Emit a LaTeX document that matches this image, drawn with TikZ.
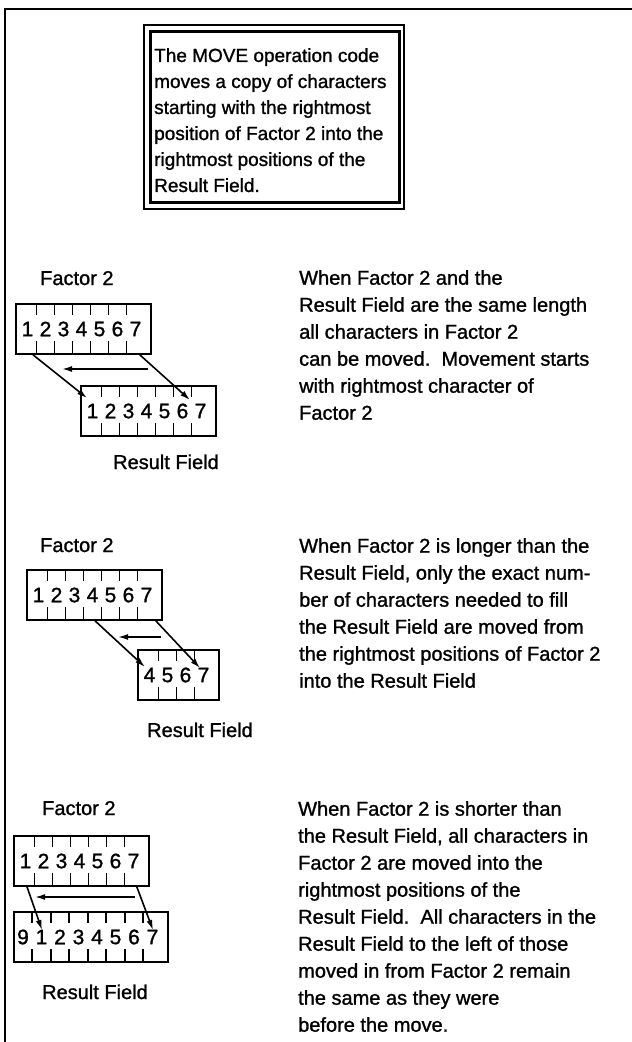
\documentclass[tikz,border=0pt]{standalone}
\usepackage{fontspec}
\setmainfont[FakeBold=1.2]{Liberation Sans}
\usetikzlibrary{arrows.meta}
\begin{document}
\begin{tikzpicture}[x=1pt,y=-1pt,
  frameline/.style={line width=2.4pt},
  fbox/.style={draw,line width=1.8pt,anchor=north west,minimum height=50pt,inner sep=0pt},
  tick/.style={line width=1.6pt},
  digit/.style={inner sep=0pt,font=\fontsize{21}{24}\selectfont},
  arr/.style={line width=1.6pt,-{Latex[length=10pt,width=6pt]}},
  lbl/.style={inner sep=0pt,anchor=base west,font=\fontsize{20}{24}\selectfont},
  desc/.style={inner sep=0pt,anchor=north west,align=left,font=\fontsize{20}{27}\selectfont},
  boxtext/.style={inner sep=0pt,anchor=north west,align=left,font=\fontsize{19}{26}\selectfont}]
\useasboundingbox (0,0) rectangle (632,1042);
% frame
\draw[frameline] (632,9) -- (5,9) -- (5,1042);
% header box
\node[draw,line width=1.5pt,anchor=north west,minimum width=260pt,minimum height=184pt,inner sep=0pt] (hout) at (143,24) {};
\node[draw,line width=3.2pt,anchor=north west,minimum width=249pt,minimum height=171pt,inner sep=0pt] (hin) at (149,30) {};
\node[boxtext] (htext) at (154,48) {The MOVE operation code\\moves a copy of characters\\starting with the rightmost\\position of Factor 2 into the\\rightmost positions of the\\Result Field.};
% generic field box: name, left, top, n, spacing, first offset, right margin, digits
\newcommand{\fieldbox}[8]{%
  \pgfmathsetmacro{\fbw}{#6+#5*(#4-1)+#7}%
  \node[fbox,minimum width=\fbw pt] (#1) at (#2,#3) {};
  \foreach \d [count=\k from 0] in {#8} {
    \node[digit] (#1d\k) at ({#2+#6+#5*\k},{#3+26}) {\d};
  }
  \pgfmathtruncatemacro{\nm}{#4-2}%
  \foreach \k in {0,...,\nm} {
    \draw[tick] ({#2+#6+#5*(\k+0.5)},#3) -- ++(0,12);
    \draw[tick] ({#2+#6+#5*(\k+0.5)},{#3+50}) -- ++(0,-12);
  }
}
% ---------- section 1
\node[lbl] (f1l) at (40,285) {Factor 2};
\fieldbox{fa}{15}{303}{7}{18}{12.5}{14.5}{1,2,3,4,5,6,7}
\fieldbox{fb}{80}{385}{7}{18}{12.5}{14.5}{1,2,3,4,5,6,7}
\node[lbl] (r1l) at (113,469) {Result Field};
\coordinate (e1a) at (87,398);
\coordinate (e1b) at (190,400);
\coordinate (h1s) at (148,369);
\coordinate (h1e) at (62,369);
\draw[arr] ([xshift=18pt]fa.south west) -- (e1a);
\draw[arr] ([xshift=-12pt]fa.south east) -- (e1b);
\draw[arr] (h1s) -- (h1e);
\node[desc] (t1) at (299,270) {When Factor 2 and the\\Result Field are the same length\\all characters in Factor 2\\can be moved.\ \ Movement starts\\with rightmost character of\\Factor 2};
% ---------- section 2
\node[lbl] (f2l) at (40,552) {Factor 2};
\fieldbox{ga}{26}{569}{7}{18}{12.5}{14.5}{1,2,3,4,5,6,7}
\fieldbox{gb}{137}{649}{4}{18}{12.5}{14.5}{4,5,6,7}
\node[lbl] (r2l) at (147,737) {Result Field};
\coordinate (e2a) at (145,667);
\coordinate (e2b) at (200,668);
\coordinate (h2s) at (161,637);
\coordinate (h2e) at (118,637);
\draw[arr] ([xshift=69pt]ga.south west) -- (e2a);
\draw[arr] ([xshift=-7pt]ga.south east) -- (e2b);
\draw[arr] (h2s) -- (h2e);
\node[desc] (t2) at (299,538) {When Factor 2 is longer than the\\Result Field, only the exact num-\\ber of characters needed to fill\\the Result Field are moved from\\the rightmost positions of Factor 2\\into the Result Field};
% ---------- section 3
\node[lbl] (f3l) at (42,815) {Factor 2};
\fieldbox{ha}{13}{835}{7}{18}{12.5}{14.5}{1,2,3,4,5,6,7}
\fieldbox{hb}{13}{911}{8}{18.5}{10}{14.5}{9,1,2,3,4,5,6,7}
\node[lbl] (r3l) at (42,999) {Result Field};
\coordinate (e3a) at (42,930);
\coordinate (e3b) at (153,930);
\coordinate (h3s) at (135,897);
\coordinate (h3e) at (35,897);
\draw[arr] ([xshift=14pt]ha.south west) -- (e3a);
\draw[arr] ([xshift=-13pt]ha.south east) -- (e3b);
\draw[arr] (h3s) -- (h3e);
\node[desc] (t3) at (298,801) {When Factor 2 is shorter than\\the Result Field, all characters in\\Factor 2 are moved into the\\rightmost positions of the\\Result Field.\ \ All characters in the\\Result Field to the left of those\\moved in from Factor 2 remain\\the same as they were\\before the move.};
\end{tikzpicture}
\end{document}
